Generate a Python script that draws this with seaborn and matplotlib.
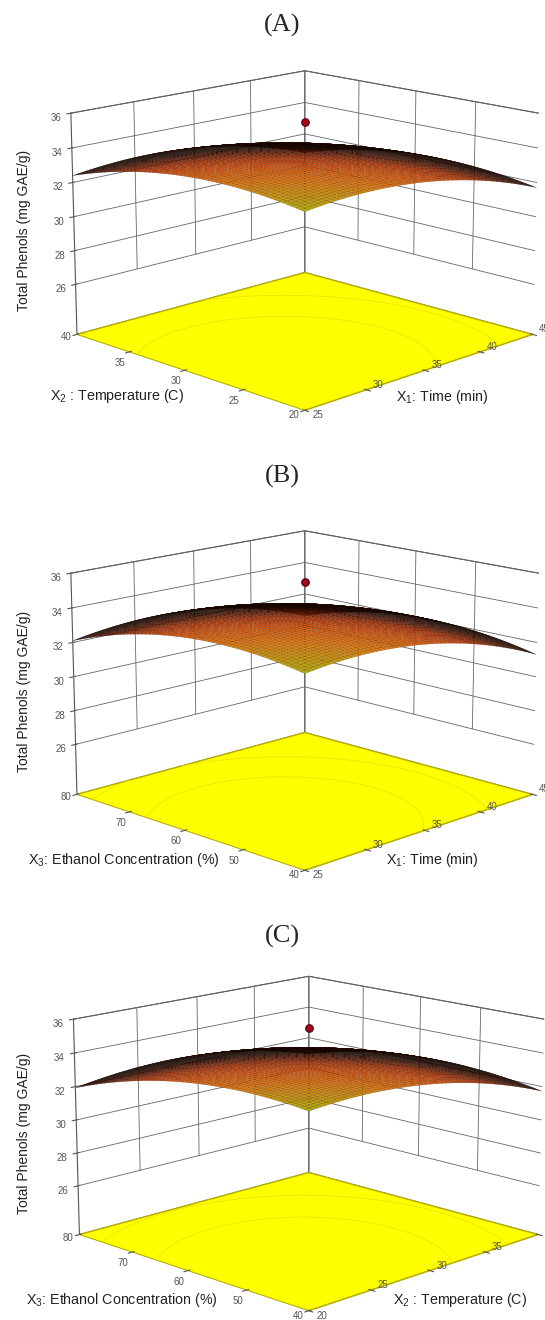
# response surfaces of total phenols vs. extraction conditions (three panels)
import numpy as np
import matplotlib
import matplotlib.pyplot as plt
from matplotlib.colors import LinearSegmentedColormap
import seaborn as sns

matplotlib.use("Agg")

# factor levels shown on the floor axes
time_ticks = [25, 30, 35, 40, 45]
temp_ticks = [20, 25, 30, 35, 40]
ethanol_ticks = [40, 50, 60, 70, 80]
phenol_ticks = [26, 28, 30, 32, 34, 36]
phenol_floor = 23

# quadratic model terms in coded units: b0, b1, b2, b11, b22, b12
coef_a = [34.0, -0.875, -0.525, -0.95, -0.925, 0.075]
coef_b = [34.0, -0.925, -0.525, -1.07, -1.055, 0.175]
coef_c = [34.0, -0.80, -0.70, -0.94, -0.935, 0.30]

# measured point at the centre of the design
optimum_phenols = [35.5, 35.5, 35.5]

panel_titles = ["(A)", "(B)", "(C)"]
right_labels = ["X$_1$: Time (min)", "X$_1$: Time (min)", "X$_2$ : Temperature (C)"]
left_labels = ["X$_2$ : Temperature (C)", "X$_3$: Ethanol Concentration (%)",
               "X$_3$: Ethanol Concentration (%)"]
z_label = "Total Phenols (mg GAE/g)"

sns.set_style("white")
plt.rcParams["font.family"] = ["Liberation Sans", "DejaVu Sans"]
plt.rcParams["mathtext.default"] = "regular"

# olive at the front corner, orange in the middle, black towards the back
surface_cmap = LinearSegmentedColormap.from_list(
    "phenols", [(0.0, "#b4ac0a"), (0.08, "#cc920e"), (0.16, "#e27810"),
                (0.27, "#dc5810"), (0.35, "#b83608"), (0.42, "#5a1804"),
                (0.48, "#1a0600"), (0.55, "#000000"), (1.0, "#000000")])

TICK_GRAY = "#555555"


def draw_panel(fig, rect, xticks, yticks, coef, dot_z, z_aspect):
    ax = fig.add_axes(rect, projection="3d", computed_zorder=False)
    ax.set_proj_type("persp", focal_length=0.8)
    ax.view_init(elev=14.5, azim=-135)
    ax.set_box_aspect((1, 1, z_aspect))

    n = 60
    a = np.linspace(-1, 1, n)
    A, B = np.meshgrid(a, a)
    b0, b1, b2, b11, b22, b12 = coef
    Z = b0 + b1 * A + b2 * B + b11 * A ** 2 + b22 * B ** 2 + b12 * A * B
    xlo, xhi = xticks[0], xticks[-1]
    ylo, yhi = yticks[0], yticks[-1]
    X = (xlo + xhi) / 2 + A * (xhi - xlo) / 2
    Y = (ylo + yhi) / 2 + B * (yhi - ylo) / 2

    # walls white, floor yellow
    ax.grid(False)
    for axis in (ax.xaxis, ax.yaxis):
        axis.set_pane_color((1, 1, 1, 1))
        axis.pane.set_edgecolor("#555555")
        axis.pane.set_linewidth(0.8)
    ax.zaxis.set_pane_color("#ffff00")
    ax.zaxis.pane.set_edgecolor("#b8b000")

    # wall grid lines (only over the labelled response range)
    gkw = dict(color="#666666", lw=0.6, zorder=1)
    for z in phenol_ticks:
        ax.plot([xlo, xhi], [yhi, yhi], [z, z], **gkw)
        ax.plot([xhi, xhi], [ylo, yhi], [z, z], **gkw)
    for x in xticks[1:-1]:
        ax.plot([x, x], [yhi, yhi], [phenol_ticks[0], phenol_ticks[-1]], **gkw)
    for y in yticks[1:-1]:
        ax.plot([xhi, xhi], [y, y], [phenol_ticks[0], phenol_ticks[-1]], **gkw)

    # faint contours on the floor
    ax.contour(X, Y, Z, levels=[32.5, 33.5], zdir="z", offset=phenol_floor,
               colors="#ece400", linewidths=0.6, zorder=2)

    depth = (A + B) / 2
    colors = surface_cmap((depth + 1) / 2)
    ax.plot_surface(X, Y, Z, facecolors=colors, rstride=1, cstride=1,
                    shade=False, edgecolor="#2a0c00", linewidth=0.1,
                    antialiased=True, zorder=3)

    ax.scatter([(xlo + xhi) / 2], [(ylo + yhi) / 2], [dot_z], s=28,
               color="#a00c1c", edgecolor="#6a0010", depthshade=False, zorder=5)

    ax.set_xlim(xlo, xhi)
    ax.set_ylim(ylo, yhi)
    ax.set_zlim(phenol_floor, phenol_ticks[-1])
    ax.set_xticks(xticks)
    ax.set_yticks(yticks)
    ax.set_zticks(phenol_ticks)
    ax.set_xticklabels([])
    ax.set_yticklabels([])
    ax.tick_params(labelsize=7, colors=TICK_GRAY, pad=-2)
    ax.set_xlabel("")
    ax.set_ylabel("")
    ax.set_zlabel("")
    for axis in (ax.xaxis, ax.yaxis):
        axis.line.set_color("#b8b000")
    ax.zaxis.line.set_color("#555555")
    return ax


def floor_label(fig, ax, x, y, text, dx, dy):
    # project a floor point to the figure and write its tick label beside it
    v = ax.get_proj() @ np.array([x, y, phenol_floor, 1.0])
    px, py = ax.transData.transform((v[0] / v[3], v[1] / v[3]))
    fx, fy = fig.transFigure.inverted().transform((px + dx, py - dy))
    fig.text(fx, fy, text, ha="center", va="center", fontsize=7, color=TICK_GRAY)


fig = plt.figure(figsize=(5.45, 13.2), dpi=100)
H = 1320.0
W = 545.0

panels = [(coef_a, time_ticks, temp_ticks), (coef_b, time_ticks, ethanol_ticks),
          (coef_c, temp_ticks, ethanol_ticks)]
# panel placement in pixels (from the top-left of the figure)
rect_left = [-77, -77, -73]
rect_top = [0, 460, 903]
z_aspects = [0.7, 0.7, 0.677]
title_y = [25, 476, 936]
zlabel_y = [230, 691, 1133]
left_label_xy = [(50, 396), (28, 860), (26, 1300)]
right_label_xy = [(396, 397), (386, 860), (393, 1300)]

axes = []
for i, (coef, xt, yt) in enumerate(panels):
    rect = [rect_left[i] / W, 1 - (rect_top[i] + 482) / H, 750 / W, 500 / H]
    axes.append(draw_panel(fig, rect, xt, yt, coef, optimum_phenols[i], z_aspects[i]))
    fig.text(282 / W, 1 - title_y[i] / H, panel_titles[i], ha="center", va="center",
             fontsize=19, family=["Liberation Serif", "DejaVu Serif"])
    fig.text(24 / W, 1 - zlabel_y[i] / H, z_label, rotation=90, ha="center",
             va="center", fontsize=10, color="#222222")
    lx, ly = left_label_xy[i]
    fig.text(lx / W, 1 - ly / H, left_labels[i], ha="left", va="center",
             fontsize=10.3, color="#222222")
    rx, ry = right_label_xy[i]
    fig.text(rx / W, 1 - ry / H, right_labels[i], ha="left", va="center",
             fontsize=10.3, color="#222222")

# tick labels along the two front edges of each floor
fig.canvas.draw()
for ax, (coef, xt, yt) in zip(axes, panels):
    for j, x in enumerate(xt):
        dx, dy = (13, 5) if j == 0 else (12, -5)
        floor_label(fig, ax, x, yt[0], str(x), dx, dy)
    for j, y in enumerate(yt):
        if j == 0:
            dx, dy = (-11, 5)
        elif j == len(yt) - 1:
            dx, dy = (-11, 3)
        else:
            dx, dy = (-9, 11)
        floor_label(fig, ax, xt[0], y, str(y), dx, dy)

fig.savefig("out.png", dpi=100)
